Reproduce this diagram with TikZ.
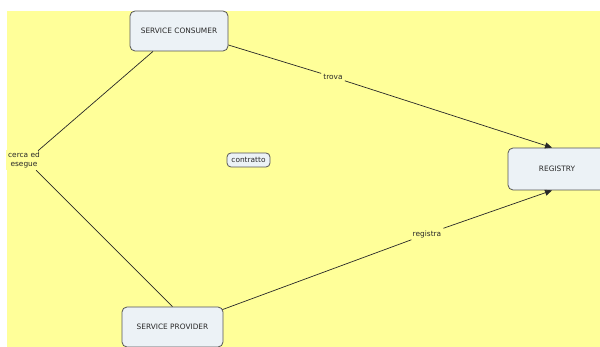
\documentclass[tikz,border=0pt]{standalone}
\usepackage{fontspec}
\setmainfont{DejaVu Sans}
\usetikzlibrary{arrows.meta,calc}
\definecolor{paper}{RGB}{255,255,153}
\definecolor{boxfill}{RGB}{236,242,246}
\definecolor{boxline}{RGB}{85,85,85}
\definecolor{ink}{RGB}{40,40,40}
\begin{document}
\begin{tikzpicture}[x=1pt,y=-1pt,
  concept/.style={draw=boxline,fill=boxfill,rounded corners=5pt,line width=0.8pt,
    font=\fontsize{7.4}{9}\selectfont,text=ink,inner sep=0pt},
  linklabel/.style={fill=paper,inner sep=2pt,font=\fontsize{7.4}{9}\selectfont,text=ink,align=center},
  link/.style={draw=ink,line width=0.7pt},
  arrowlink/.style={link,-{Triangle[length=7pt,width=6pt]}}]
  \useasboundingbox (0,0) rectangle (600,347);
  \fill[paper] (7,11) rectangle (600,347);

  % concepts
  \node[concept,minimum width=98pt,minimum height=40pt] (consumer) at (179,31) {SERVICE CONSUMER};
  \node[concept,minimum width=98pt,minimum height=42pt] (registry) at (557,169) {REGISTRY};
  \node[concept,minimum width=101pt,minimum height=40pt] (provider) at (172.5,327) {SERVICE PROVIDER};
  \node[concept,minimum width=43pt,minimum height=14pt,rounded corners=4pt] (contract) at (248.5,160) {contratto};

  % linking phrases
  \node[linklabel] (cerca) at (24,160) {cerca ed\\esegue};
  \node[linklabel] (trova) at (333,77) {trova};
  \node[linklabel] (registra) at (427,234) {registra};

  % connectors
  \coordinate (consumerB) at ($(consumer.south)+(-26,0)$);
  \coordinate (providerT) at ($(provider.north)+(0,0)$);
  \coordinate (regN) at ($(registry.north)+(-5,0)$);
  \coordinate (regS) at ($(registry.south)+(-5,0)$);
  \coordinate (consumerR) at ($(consumer.east)+(0,14)$);
  \coordinate (providerR) at ($(provider.north east)+(-1,3)$);
  \coordinate (cercaTop) at ($(cerca.north east)+(-4,1)$);
  \coordinate (cercaBot) at ($(cerca.south east)+(-6,0)$);

  \draw[link] (consumerB) -- (cercaTop);
  \draw[link] (cercaBot) -- (providerT);
  \draw[link] (consumerR) -- (trova);
  \draw[arrowlink] (trova) -- (regN);
  \draw[link] (providerR) -- (registra);
  \draw[arrowlink] (registra) -- (regS);
\end{tikzpicture}
\end{document}
